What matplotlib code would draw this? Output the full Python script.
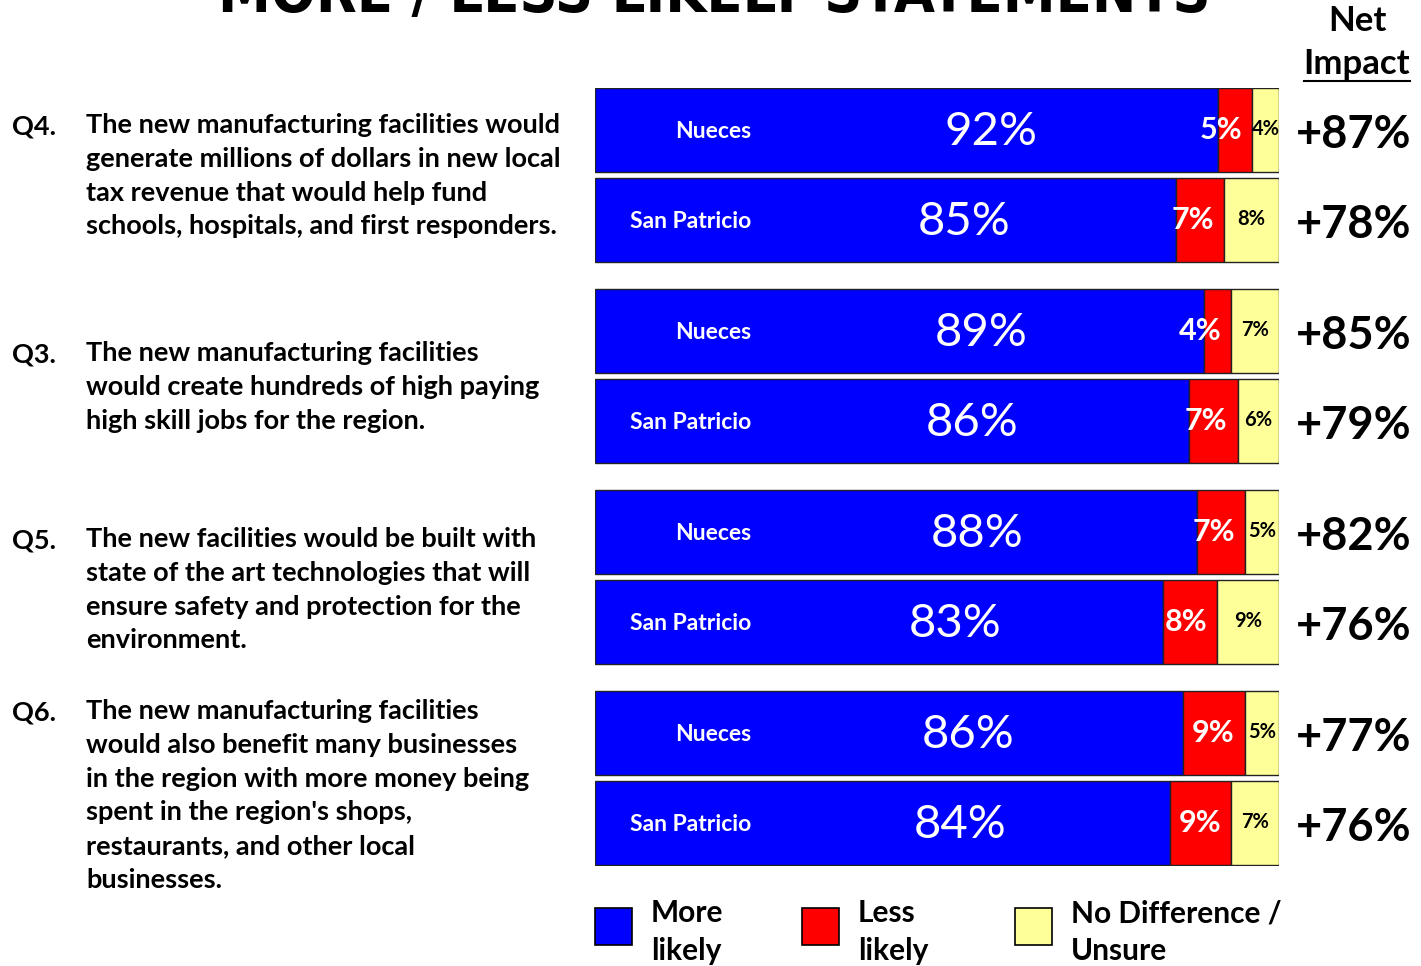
import numpy as np
import matplotlib.pyplot as plt

# survey results, percent
questions = ["Q4.", "Q3.", "Q5.", "Q6."]
statements = [
    "The new manufacturing facilities would\ngenerate millions of dollars in new local\ntax revenue that would help fund\nschools, hospitals, and first responders.",
    "The new manufacturing facilities\nwould create hundreds of high paying\nhigh skill jobs for the region.",
    "The new facilities would be built with\nstate of the art technologies that will\nensure safety and protection for the\nenvironment.",
    "The new manufacturing facilities\nwould also benefit many businesses\nin the region with more money being\nspent in the region's shops,\nrestaurants, and other local\nbusinesses.",
]
counties = ["Nueces", "San Patricio"]
more_likely = [[92, 85], [89, 86], [88, 83], [86, 84]]
less_likely = [[5, 7], [4, 7], [7, 8], [9, 9]]
no_diff = [[4, 8], [7, 6], [5, 9], [5, 7]]
net_impact = [["+87%", "+78%"], ["+85%", "+79%"], ["+82%", "+76%"], ["+77%", "+76%"]]

BLUE, RED, YELLOW = "#0000FF", "#FF0000", "#FFFF99"
FONT = "Lato"
W, H = 1421, 966

fig = plt.figure(figsize=(W / 100, H / 100), dpi=100)

# overlay axis in pixel coordinates for the free text
tx = fig.add_axes([0, 0, 1, 1])
tx.set_xlim(0, W)
tx.set_ylim(H, 0)
tx.axis("off")

# bar axis
bx0, bx1, by0, by1 = 595, 1279, 88, 866
ax = fig.add_axes([bx0 / W, (H - by1) / H, (bx1 - bx0) / W, (by1 - by0) / H])
ax.set_xlim(0, 1)
ax.set_ylim(by1, by0)
ax.axis("off")

bar_h = 84
group_step = 201
row_step = 90
q_text_y = [123, 351, 537, 709]

for g in range(len(questions)):
    m = np.array(more_likely[g], float)
    l = np.array(less_likely[g], float)
    n = np.array(no_diff[g], float)
    tot = m + l + n
    mf, lf, nf = m / tot, l / tot, n / tot
    ys = np.array([by0 + g * group_step + r * row_step + bar_h / 2 for r in range(2)])
    kw = dict(height=bar_h, edgecolor="#222222", linewidth=1)
    ax.barh(ys, mf, color=BLUE, **kw)
    ax.barh(ys, lf, left=mf, color=RED, **kw)
    ax.barh(ys, nf, left=mf + lf, color=YELLOW, **kw)
    for r in range(2):
        y = ys[r]
        ax.text(156 / 684, y + 2, counties[r], color="white", fontsize=16.5, fontweight="bold",
                family=FONT, ha="right", va="center")
        ax.text(mf[r] * 0.635, y + 2, f"{more_likely[g][r]}%", color="white", fontsize=34,
                family=FONT, ha="center", va="center")
        ax.text(mf[r] + lf[r] - 10 / 684, y, f"{less_likely[g][r]}%", color="white", fontsize=22,
                family=FONT, fontweight="bold", ha="right", va="center")
        ax.text(mf[r] + lf[r] + nf[r] / 2, y - 1, f"{no_diff[g][r]}%", color="black", fontsize=14.5,
                family=FONT, fontweight="bold", ha="center", va="center")
        tx.text(1354, y + 5, net_impact[g][r], color="black", fontsize=32.5, fontweight="bold",
                family=FONT, ha="center", va="center")

    tx.text(12, q_text_y[g] + 3, questions[g], fontsize=19.5, fontweight="bold", family=FONT,
            ha="left", va="center")
    tx.text(86, q_text_y[g] - 10, statements[g], fontsize=19.5, fontweight="bold", family=FONT,
            ha="left", va="top", linespacing=1.49)

# header
tx.text(714, 12, "MORE / LESS LIKELY STATEMENTS", fontsize=42.5, fontweight="bold",
        family="DejaVu Sans", fontstretch="condensed", ha="center", va="baseline")
tx.text(1357, 21, "Net", fontsize=25, fontweight="bold", family=FONT, ha="center", va="center")
tx.text(1357, 64, "Impact", fontsize=25, fontweight="bold", family=FONT, ha="center", va="center")
tx.plot([1304, 1410], [81, 81], color="black", linewidth=1.5)

# legend
leg_labels = ["More\nlikely", "Less\nlikely", "No Difference /\nUnsure"]
leg_colors = [BLUE, RED, YELLOW]
leg_x = [595, 802, 1015]
for lx, lc, lt in zip(leg_x, leg_colors, leg_labels):
    tx.add_patch(plt.Rectangle((lx, 908), 37, 37, facecolor=lc, edgecolor="black", linewidth=1.2))
    tx.text(lx + 56, 899, lt, fontsize=21.5, fontweight="bold", family=FONT, ha="left", va="top",
            linespacing=1.45)

fig.savefig("out.png", dpi=100)
